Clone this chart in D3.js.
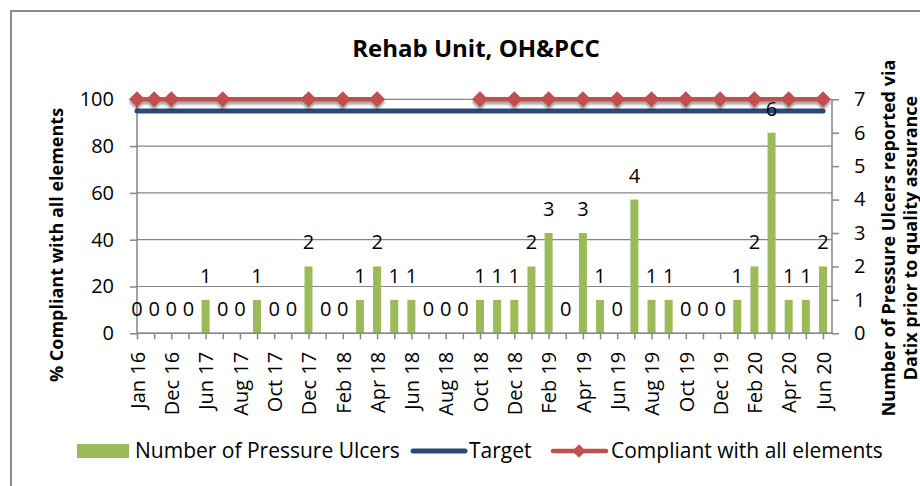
<!DOCTYPE html>
<html>
<head>
<meta charset="utf-8">
<script src="https://cdn.jsdelivr.net/npm/d3@7/dist/d3.min.js"></script>
<style>
    body { margin: 0; background: #fff; }
    svg { display: block; font-family: "Open Sans", sans-serif; }
</style>
</head>
<body>
<svg id="chart"></svg>
<script>
(function () {
    'use strict';

    // month labels, only every second one is printed on the axis
    var categories = [
        "Jan 16", "Jun 16", "Dec 16", "Mar 17", "Jun 17", "Jul 17", "Aug 17", "Sep 17", "Oct 17", "Nov 17",
        "Dec 17", "Jan 18", "Feb 18", "Mar 18", "Apr 18", "May 18", "Jun 18", "Jul 18", "Aug 18", "Sep 18",
        "Oct 18", "Nov 18", "Dec 18", "Jan 19", "Feb 19", "Mar 19", "Apr 19", "May 19", "Jun 19", "Jul 19",
        "Aug 19", "Sep 19", "Oct 19", "Nov 19", "Dec 19", "Jan 20", "Feb 20", "Mar 20", "Apr 20", "May 20",
        "Jun 20"
    ];

    var ulcers = [
        0, 0, 0, 0, 1, 0, 0, 1, 0, 0,
        2, 0, 0, 1, 2, 1, 1, 0, 0, 0,
        1, 1, 1, 2, 3, 0, 3, 1, 0, 4,
        1, 1, 0, 0, 0, 1, 2, 6, 1, 1,
        2
    ];

    var target = [
        95, 95, 95, 95, 95, 95, 95, 95, 95, 95,
        95, 95, 95, 95, 95, 95, 95, 95, 95, 95,
        95, 95, 95, 95, 95, 95, 95, 95, 95, 95,
        95, 95, 95, 95, 95, 95, 95, 95, 95, 95,
        95
    ];

    // null = no audit that month (line is bridged over it)
    var compliant = [
        100, 100, 100, null, null, 100, null, null, null, null,
        100, null, 100, null, 100, null, null, null, null, null,
        100, null, 100, null, 100, null, 100, null, 100, null,
        100, null, 100, null, 100, null, 100, null, 100, null,
        100
    ];
    var compliantBreakAfter = "Apr 18";   // line not joined across the summer 18 gap

    var leftTicks = [0, 20, 40, 60, 80, 100];
    var rightTicks = [0, 1, 2, 3, 4, 5, 6, 7];

    var w = 920,
        h = 486;

    var left = 137, right = 832, top = 99.3, bottom = 333.3;
    var grey = "#868686",
        green = "#9bbb59",
        red = "#c0504d",
        blue = "#2a4a7a";

    var svg = d3.select("#chart")
        .attr("width", w)
        .attr("height", h);

    var defs = svg.append("defs");
    defs.append("filter")
        .attr("id", "shadow")
        .attr("filterUnits", "userSpaceOnUse")
        .attr("x", 0).attr("y", 0).attr("width", w).attr("height", h)
        .append("feDropShadow")
        .attr("dx", 0)
        .attr("dy", 3)
        .attr("stdDeviation", 1.3)
        .attr("flood-color", "#000")
        .attr("flood-opacity", 0.35);

    // chart border
    svg.append("rect")
        .attr("x", 11).attr("y", 11)
        .attr("width", w + 20).attr("height", h + 20)
        .attr("fill", "none")
        .attr("stroke", "#8c8c8c")
        .attr("stroke-width", 2);

    var x = d3.scalePoint().domain(categories).range([left, 823]),
        yL = d3.scaleLinear().domain([0, 100]).range([bottom, top]),
        yR = d3.scaleLinear().domain([0, 7]).range([bottom, top]);

    // title
    svg.append("text")
        .attr("x", 476)
        .attr("y", 57)
        .attr("text-anchor", "middle")
        .style("font-size", "24px")
        .style("font-weight", "bold")
        .text("Rehab Unit, OH&PCC");

    // gridlines
    svg.append("g")
        .selectAll("line")
        .data(leftTicks)
        .enter().append("line")
        .attr("x1", left).attr("x2", right)
        .attr("y1", function (d) { return yL(d); })
        .attr("y2", function (d) { return yL(d); })
        .attr("stroke", grey)
        .attr("stroke-width", 1.2);

    // bars
    svg.append("g")
        .selectAll("rect")
        .data(ulcers)
        .enter().append("rect")
        .attr("x", function (d, i) { return x(categories[i]) - 4; })
        .attr("width", 8)
        .attr("y", function (d) { return yR(d); })
        .attr("height", function (d) { return yR(0) - yR(d); })
        .attr("fill", green);

    // axes
    var xAxis = svg.append("g")
        .attr("transform", "translate(0," + bottom + ")")
        .call(d3.axisBottom(x)
            .tickSize(6)
            .tickFormat(function (d, i) { return i % 2 === 0 ? d : ""; }));
    xAxis.select(".domain").remove();
    xAxis.selectAll("line").attr("stroke", grey).attr("stroke-width", 1.5);
    xAxis.selectAll("text")
        .attr("transform", "rotate(-90)")
        .attr("x", -18.5)
        .attr("y", 0)
        .attr("dy", "0.36em")
        .attr("text-anchor", "end")
        .attr("fill", "#000")
        .style("font-size", "20px")
        .style("font-family", "'Open Sans', sans-serif");

    var yAxisL = svg.append("g")
        .attr("transform", "translate(" + left + ",0)")
        .call(d3.axisLeft(yL).tickValues(leftTicks).tickSize(7).tickPadding(16));
    yAxisL.select(".domain").remove();
    yAxisL.selectAll("line").attr("stroke", grey).attr("stroke-width", 1.5);
    yAxisL.selectAll("text")
        .attr("fill", "#000")
        .style("font-size", "20px")
        .style("font-family", "'Open Sans', sans-serif");

    var yAxisR = svg.append("g")
        .attr("transform", "translate(" + right + ",0)")
        .call(d3.axisRight(yR).tickValues(rightTicks).tickFormat(d3.format("d")).tickSize(7).tickPadding(15));
    yAxisR.select(".domain").remove();
    yAxisR.selectAll("line").attr("stroke", grey).attr("stroke-width", 1.5);
    yAxisR.selectAll("text")
        .attr("fill", "#000")
        .style("font-size", "20px")
        .style("font-family", "'Open Sans', sans-serif");

    // axis lines
    svg.append("line")
        .attr("x1", left).attr("x2", left).attr("y1", top).attr("y2", bottom)
        .attr("stroke", grey).attr("stroke-width", 1.5);
    svg.append("line")
        .attr("x1", right).attr("x2", right).attr("y1", top).attr("y2", bottom)
        .attr("stroke", grey).attr("stroke-width", 1.5);
    svg.append("line")
        .attr("x1", left).attr("x2", right).attr("y1", bottom).attr("y2", bottom)
        .attr("stroke", grey).attr("stroke-width", 1.5);

    // target line
    var line = d3.line()
        .x(function (d) { return x(d.cat); })
        .y(function (d) { return yL(d.v); });

    svg.append("path")
        .datum(target.map(function (v, i) { return { cat: categories[i], v: v }; }))
        .attr("d", line)
        .attr("fill", "none")
        .attr("stroke", blue)
        .attr("stroke-width", 5)
        .attr("stroke-linecap", "round");

    // compliance line, bridged over missing months, split into runs
    var runs = [[]];
    compliant.forEach(function (v, i) {
        if (v !== null) runs[runs.length - 1].push({ cat: categories[i], v: v });
        if (categories[i] === compliantBreakAfter) runs.push([]);
    });

    var comp = svg.append("g").attr("filter", "url(#shadow)");
    comp.selectAll("path.run")
        .data(runs)
        .enter().append("path")
        .attr("class", "run")
        .attr("d", line)
        .attr("fill", "none")
        .attr("stroke", red)
        .attr("stroke-width", 4.5)
        .attr("stroke-linejoin", "round");

    var diamond = d3.symbol().type(d3.symbolSquare).size(130);
    comp.selectAll("path.mark")
        .data(d3.merge(runs))
        .enter().append("path")
        .attr("class", "mark")
        .attr("d", diamond)
        .attr("transform", function (d) { return "translate(" + x(d.cat) + "," + yL(d.v) + ") rotate(45)"; })
        .attr("fill", red);

    // data labels
    svg.append("g")
        .selectAll("text")
        .data(ulcers)
        .enter().append("text")
        .attr("x", function (d, i) { return x(categories[i]); })
        .attr("y", function (d) { return yR(d) - 17; })
        .attr("text-anchor", "middle")
        .style("font-size", "20px")
        .text(function (d) { return d; });

    // axis titles
    svg.append("text")
        .attr("transform", "translate(63,245) rotate(-90)")
        .attr("text-anchor", "middle")
        .style("font-size", "18px")
        .style("font-weight", "bold")
        .text("% Compliant with all elements");

    svg.append("text")
        .attr("transform", "translate(895,238) rotate(-90)")
        .attr("text-anchor", "middle")
        .style("font-size", "18px")
        .style("font-weight", "bold")
        .selectAll("tspan")
        .data(["Number of Pressure Ulcers reported via", "Datix prior to quality assurance"])
        .enter().append("tspan")
        .attr("x", 0)
        .attr("dy", function (d, i) { return i === 0 ? 0 : 22; })
        .text(function (d) { return d; });

    // legend
    var legend = svg.append("g").attr("transform", "translate(0,451)");

    legend.append("rect")
        .attr("x", 77).attr("y", -7)
        .attr("width", 52).attr("height", 14)
        .attr("fill", green);
    legend.append("text")
        .attr("x", 135).attr("y", 7)
        .style("font-size", "21px")
        .text("Number of Pressure Ulcers");

    legend.append("line")
        .attr("x1", 413).attr("x2", 465)
        .attr("stroke", blue).attr("stroke-width", 5).attr("stroke-linecap", "round");
    legend.append("text")
        .attr("x", 469).attr("y", 7)
        .style("font-size", "21px")
        .text("Target");

    legend.append("line")
        .attr("x1", 553).attr("x2", 606)
        .attr("stroke", red).attr("stroke-width", 4.5).attr("stroke-linecap", "round");
    legend.append("path")
        .attr("d", d3.symbol().type(d3.symbolSquare).size(90))
        .attr("transform", "translate(579,0) rotate(45)")
        .attr("fill", red);
    legend.append("text")
        .attr("x", 611).attr("y", 7)
        .style("font-size", "21px")
        .text("Compliant with all elements");
})();
</script>
</body>
</html>
